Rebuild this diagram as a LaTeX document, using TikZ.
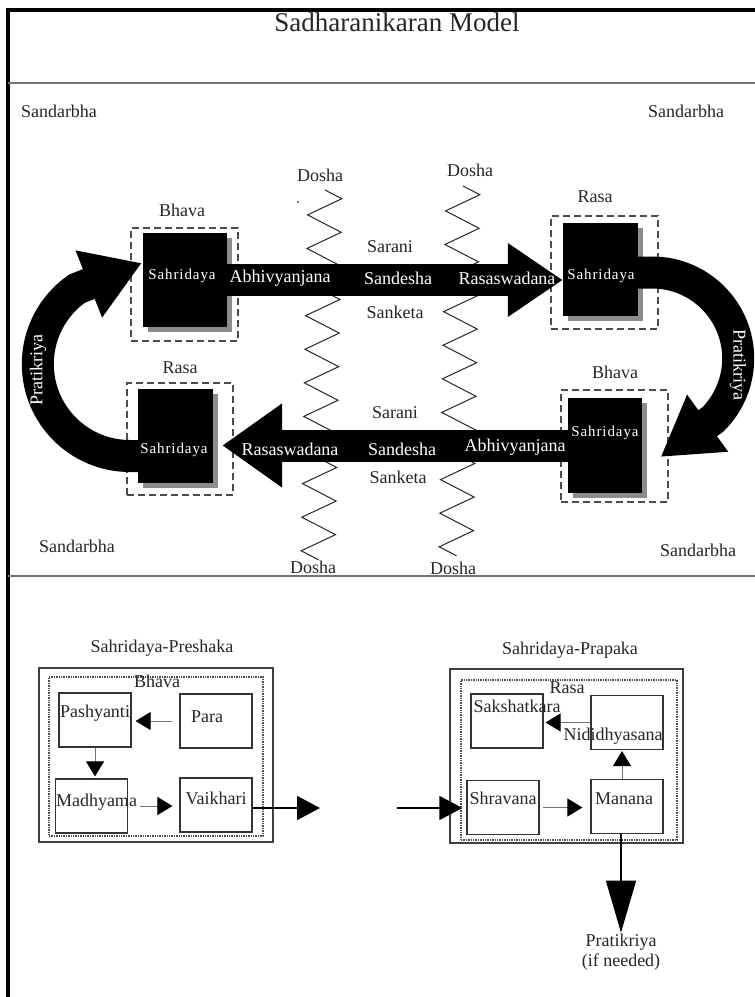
\documentclass[tikz,border=0pt]{standalone}
\usepackage{fontspec}
\setmainfont{Liberation Serif}
\usetikzlibrary{arrows.meta,shadows,calc,positioning,decorations.pathmorphing}

\tikzset{
  txt/.style={font=\fontsize{18}{20}\selectfont, text=black!85, inner sep=1pt},
  wtxt/.style={txt, text=white},
  sahtxt/.style={font=\fontsize{15}{17}\selectfont\addfontfeature{LetterSpace=6}, text=white, inner sep=0pt},
  sahbox/.style={fill=black, inner sep=0pt, minimum height=94pt,
    drop shadow={shadow xshift=5pt, shadow yshift=-5pt, fill=black!45, opacity=1}},
  rasabox/.style={draw=black!70, line width=1.1pt, dash pattern=on 7pt off 4pt, inner sep=0pt},
  band/.style={line width=32pt, draw=black},
  dosha/.style={draw=black!85, line width=1pt, decorate,
    decoration={zigzag, segment length=33.6pt, amplitude=17pt}},
  outerbox/.style={draw=black!75, line width=1.4pt, inner sep=0pt},
  innerbox/.style={draw=black!70, line width=1.4pt, densely dotted, inner sep=0pt},
  wbox/.style={draw=black!80, line width=1.2pt, minimum width=72pt, minimum height=54pt, inner sep=0pt},
  sarrow/.style={draw=black!55, line width=0.9pt, -{Triangle[width=18pt,length=15pt,black]}},
  barrow/.style={draw=black, line width=1.4pt, -{Triangle[width=24pt,length=23pt]}},
}

\begin{document}
\begin{tikzpicture}[x=1pt, y=-1pt]
\useasboundingbox[fill=white] (0,0) rectangle (755,997);

% frame
\draw[line width=4pt] (8,997) -- (8,10) -- (755,10);
\draw[black!55, line width=2pt] (8,82.5) -- (755,82.5);
\draw[black!55, line width=2pt] (8,576) -- (755,576);
\node[txt, font=\fontsize{27}{30}\selectfont] (title) at (397,22) {Sadharanikaran Model};

% context
\node[txt] (ctxTL) at (59,111) {Sandarbha};
\node[txt] (ctxTR) at (686,111) {Sandarbha};
\node[txt] (ctxBL) at (77,546) {Sandarbha};
\node[txt] (ctxBR) at (698,550) {Sandarbha};

% noise
\coordinate (z1t) at (325,190);
\coordinate (z1b) at (318,560);
\coordinate (z2t) at (463,186);
\coordinate (z2b) at (456,556);
\draw[dosha] (z1t) -- (z1b);
\draw[dosha] (z2t) -- (z2b);
\node[txt] (dT1) at (320,175) {Dosha};
\node[txt] (dT2) at (470,170) {Dosha};
\node[txt] (dB1) at (313,567) {Dosha};
\node[txt] (dB2) at (453,568) {Dosha};
\fill[black!70] (298,202) circle (1.2);

% sahridaya boxes
\node[rasabox, minimum width=107pt, minimum height=113pt] (uld) at (184.5,284.5) {};
\node[rasabox, minimum width=107pt, minimum height=113pt] (urd) at (604.5,272.5) {};
\node[rasabox, minimum width=106pt, minimum height=112pt] (lld) at (180,439) {};
\node[rasabox, minimum width=107pt, minimum height=112pt] (lrd) at (614.5,446) {};
\node[sahbox, minimum width=84pt] (ul) at (185,280) {};
\node[sahbox, minimum width=75pt, minimum height=93pt] (ur) at (600.5,269.5) {};
\node[sahbox, minimum width=75pt] (ll) at (175.5,436) {};
\node[sahbox, minimum width=74pt, minimum height=95pt] (lr) at (605,445.5) {};

\node[txt] (ulL) at (182,210) {Bhava};
\node[txt] (urL) at (595,197) {Rasa};
\node[txt] (llL) at (180,368) {Rasa};
\node[txt] (lrL) at (615,372) {Bhava};

% messages
\draw[band, -{Triangle[width=70pt,length=55pt]}] (ul.east) -- (ul.east -| ur.west);
\draw[band, -{Triangle[width=80pt,length=60pt]}, shorten >=9pt] (lr.west) -- (lr.west -| ll.east);

% feedback
\draw[band, -{Triangle[width=68pt,length=57pt]}] ($(ll.west)+(0,20)$) -- ++(-8,0)
  arc[start angle=90, end angle=235, radius=92] -- ($(ul.west)+(-1,-17)$);
\draw[band, -{Triangle[width=66pt,length=58pt]}] ($(ur.east)+(0,3)$) -- ++(14,0)
  arc[start angle=-90, end angle=45, radius=86] -- ($(lrd.east)+(-8,11)$);
\node[wtxt, rotate=90] (pkL) at (38,370) {Pratikriya};
\node[wtxt, rotate=-90] (pkR) at (738,365) {Pratikriya};

\node[sahtxt] (ulT) at (182,276) {Sahridaya};
\node[sahtxt] (urT) at (601,276) {Sahridaya};
\node[sahtxt] (llT) at (174,450) {Sahridaya};
\node[sahtxt] (lrT) at (605,433) {Sahridaya};

\node[wtxt] (uA) at (280,278) {Abhivyanjana};
\node[wtxt] (uS) at (398,278) {Sandesha};
\node[wtxt] (uR) at (507,278) {Rasaswadana};
\node[txt] (uSa) at (390,247) {Sarani};
\node[txt] (uSk) at (395,312) {Sanketa};

\node[wtxt] (lR) at (290,449) {Rasaswadana};
\node[wtxt] (lS) at (402,449) {Sandesha};
\node[wtxt] (lA) at (515,447) {Abhivyanjana};
\node[txt] (lSa) at (395,413) {Sarani};
\node[txt] (lSk) at (398,477) {Sanketa};

% sender
\node[outerbox, minimum width=234pt, minimum height=174pt] (presO) at (156,755) {};
\node[innerbox, minimum width=214pt, minimum height=159pt] (presD) at (156,756.5) {};
\node[txt] (presL) at (162,648) {Sahridaya-Preshaka};
\node[txt] (presB) at (157,681) {Bhava};
\node[wbox, label={[txt, name=pashT, yshift=7pt]center:Pashyanti}] (pash) at (95,720) {};
\node[wbox, label={[txt, name=paraT, xshift=-9pt, yshift=4pt]center:Para}] (para) at (216,721) {};
\node[wbox, label={[txt, name=madhT, xshift=5pt, yshift=4pt]center:Madhyama}] (madh) at (91.5,806) {};
\node[wbox, label={[txt, name=vaikT, yshift=7pt]center:Vaikhari}] (vaik) at (216,805) {};
\draw[sarrow, shorten <=7pt, shorten >=4pt] (para.west) -- (para.west -| pash.east);
\draw[sarrow, shorten >=2pt] (pash.south) -- (pash.south |- madh.north);
\draw[sarrow, shorten <=12pt, shorten >=7pt] (madh.east) -- (madh.east -| vaik.west);

% receiver
\node[outerbox, minimum width=233pt, minimum height=174pt] (prapO) at (566.5,756) {};
\node[innerbox, minimum width=216pt, minimum height=160pt] (prapD) at (569,760) {};
\node[txt] (prapL) at (570,650) {Sahridaya-Prapaka};
\node[txt] (prapR) at (567,688) {Rasa};
\node[wbox, label={[txt, name=saksT, xshift=10pt, yshift=15pt]center:Sakshatkara}] (saks) at (507,721) {};
\node[wbox, label={[txt, name=nidiT, xshift=-14pt, yshift=-14pt]center:Nididhyasana}] (nidi) at (627,722.5) {};
\node[wbox, label={[txt, name=shraT, yshift=9pt]center:Shravana}] (shra) at (503,807.5) {};
\node[wbox, label={[txt, name=manaT, xshift=-3pt, yshift=8pt]center:Manana}] (mana) at (627,806.5) {};
\draw[sarrow, shorten >=2pt] (nidi.west) -- (nidi.west -| saks.east);
\draw[sarrow, shorten <=3pt, shorten >=8pt] (shra.east) -- (shra.east -| mana.west);
\draw[sarrow, shorten >=1pt] ([xshift=-5pt]mana.north) -- ([xshift=-5pt]mana.north |- nidi.south);

% channel between them
\coordinate (gapL) at (320,808);
\coordinate (gapR) at (397,808);
\draw[barrow] (vaik.east |- gapL) -- (gapL);
\draw[barrow, shorten >=4pt] (gapR) -- (gapR -| shra.west);

\node[txt, align=center] (prat) at (621,952) {Pratikriya\\(if needed)};
\draw[barrow, -{Triangle[width=30pt,length=52pt]}] ([xshift=-6pt]mana.south) -- (prat.north);
\end{tikzpicture}
\end{document}
